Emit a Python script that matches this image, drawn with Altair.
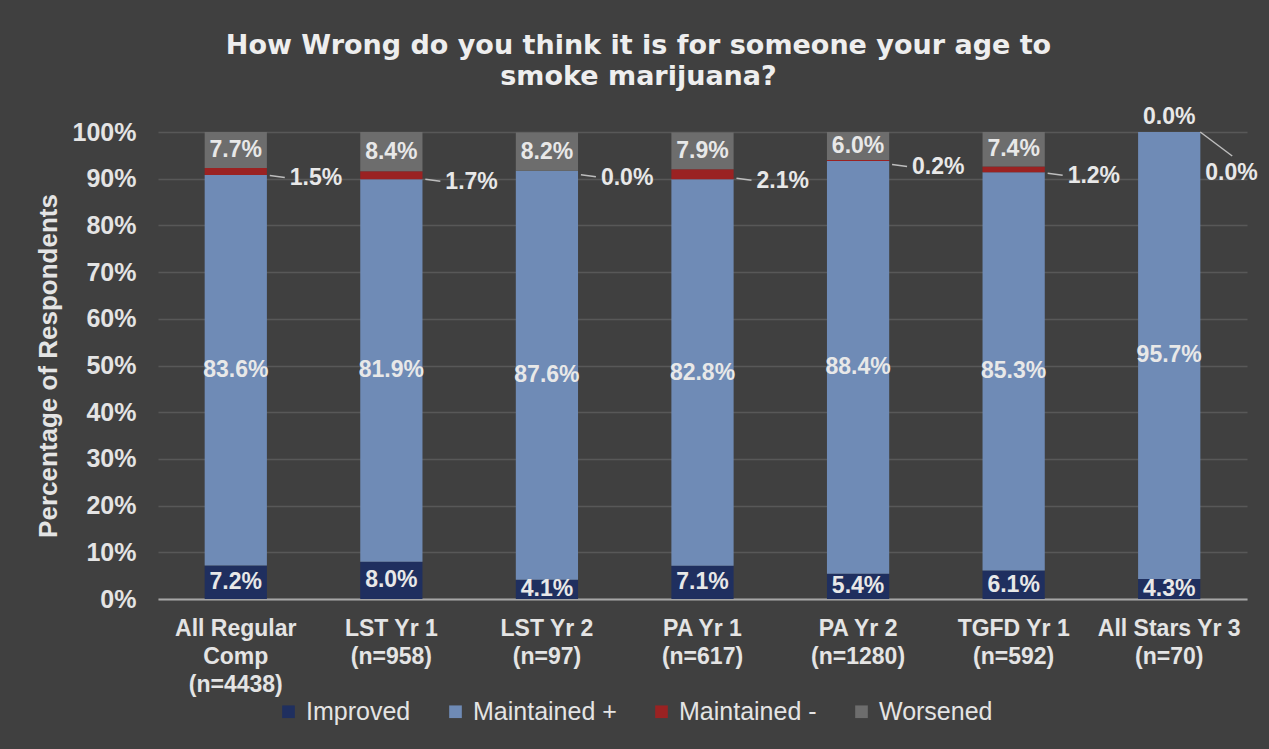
import altair as alt
import pandas as pd

categories = [
    "All Regular\nComp\n(n=4438)",
    "LST Yr 1\n(n=958)",
    "LST Yr 2\n(n=97)",
    "PA Yr 1\n(n=617)",
    "PA Yr 2\n(n=1280)",
    "TGFD Yr 1\n(n=592)",
    "All Stars Yr 3\n(n=70)",
]
series = ["Improved", "Maintained +", "Maintained -", "Worsened"]
improved = [7.2, 8.0, 4.1, 7.1, 5.4, 6.1, 4.3]
maintained_plus = [83.6, 81.9, 87.6, 82.8, 88.4, 85.3, 95.7]
maintained_minus = [1.5, 1.7, 0.0, 2.1, 0.2, 1.2, 0.0]
worsened = [7.7, 8.4, 8.2, 7.9, 6.0, 7.4, 0.0]
colors = ["#1f2f5f", "#6f8bb6", "#9a2222", "#6d6d6d"]
y_ticks = [0, 10, 20, 30, 40, 50, 60, 70, 80, 90, 100]
title_lines = ["How Wrong do you think it is for someone your age to", "smoke marijuana?"]

rows = []
values_by_series = [improved, maintained_plus, maintained_minus, worsened]
for i, cat in enumerate(categories):
    cum = 0.0
    for s, vals in zip(series, values_by_series):
        v = vals[i]
        rows.append({
            "cat": cat, "series": s, "value": v,
            "start": round(cum, 4), "end": round(cum + v, 4), "mid": round(cum + v / 2, 4),
            "label": f"{v:.1f}%",
        })
        cum += v
df = pd.DataFrame(rows)

TEXT = "#e4e4e4"
FONT = "Liberation Sans"

x_enc = alt.X(
    "cat:N", sort=categories,
    scale=alt.Scale(paddingInner=0.6, paddingOuter=0.3),
    axis=alt.Axis(
        title=None, labelAngle=0, ticks=False, domain=True,
        domainColor="#a6a6a6", domainWidth=2,
        labelFontSize=23, labelFontWeight="bold", labelColor=TEXT,
        labelLineHeight=28, labelPadding=18, labelFont=FONT,
        labelExpr="split(datum.label, '\\n')",
    ),
)
x_plain = alt.X("cat:N", sort=categories)
y_scale = alt.Scale(domain=[0, 100], nice=False)

base = alt.Chart(df)

bars = base.mark_bar().encode(
    x=x_enc,
    y=alt.Y(
        "start:Q", scale=y_scale,
        axis=alt.Axis(
            values=y_ticks, labelExpr="datum.value + '%'",
            labelFontSize=25, labelFontWeight="bold", labelColor=TEXT, labelFont=FONT,
            grid=True, gridColor="#585858", gridWidth=1.5,
            domain=False, ticks=False, labelPadding=22,
            title="Percentage of Respondents", titleFontSize=26, titleFontWeight="bold",
            titleColor=TEXT, titleFont=FONT, titlePadding=11,
        ),
    ),
    y2="end:Q",
    color=alt.Color(
        "series:N",
        scale=alt.Scale(domain=series, range=colors),
        legend=alt.Legend(
            title=None, orient="none", legendX=118, legendY=567,
            direction="horizontal", symbolType="square", symbolSize=160,
            symbolStrokeWidth=0, labelFontSize=25, labelColor=TEXT, labelFont=FONT,
            columnPadding=32, labelOffset=5, padding=0,
        ),
    ),
)

label_style = dict(fontSize=23, fontWeight="bold", color="#e8e8e8", font=FONT)

inside = base.transform_filter(
    "datum.series != 'Maintained -' && datum.value > 0"
).mark_text(baseline="middle", **label_style).encode(
    x=x_plain, y=alt.Y("mid:Q", scale=y_scale), text="label:N",
)

top_zero = base.transform_filter(
    "datum.series == 'Worsened' && datum.value == 0"
).mark_text(baseline="bottom", dy=-3, **label_style).encode(
    x=x_plain, y=alt.Y("end:Q", scale=y_scale), text="label:N",
)

minus_mid = base.transform_filter("datum.series == 'Maintained -' && datum.end < 99.95")
minus_top = base.transform_filter("datum.series == 'Maintained -' && datum.end >= 99.95")

minus_text = minus_mid.mark_text(
    align="left", baseline="middle", dx=54, dy=7, **label_style,
).encode(x=x_plain, y=alt.Y("mid:Q", scale=y_scale), text="label:N")

minus_leader = minus_mid.mark_rule(
    color="#bdbdbd", strokeWidth=1.5, xOffset=34, x2Offset=49, yOffset=4, y2Offset=6,
).encode(x=x_plain, x2=alt.X2("cat:N"), y=alt.Y("mid:Q", scale=y_scale), y2=alt.Y2("mid:Q"))

minus_top_text = minus_top.mark_text(
    align="left", baseline="middle", dx=36, dy=41, **label_style,
).encode(x=x_plain, y=alt.Y("end:Q", scale=y_scale), text="label:N")

minus_top_leader = minus_top.mark_rule(
    color="#bdbdbd", strokeWidth=1.5, xOffset=31, x2Offset=63, yOffset=0, y2Offset=24,
).encode(x=x_plain, x2=alt.X2("cat:N"), y=alt.Y("end:Q", scale=y_scale), y2=alt.Y2("end:Q"))

chart = alt.layer(
    bars, inside, top_zero, minus_leader, minus_text, minus_top_leader, minus_top_text
).properties(
    width=1089, height=467,
    autosize=alt.AutoSizeParams(type="none"),
    padding={"left": 158, "top": 132, "right": 22, "bottom": 150},
    background="#404040",
    title=alt.TitleParams(
        text=title_lines, fontSize=27, font="DejaVu Sans", fontWeight="bold",
        color="#eeeeee", anchor="middle", dx=-64, offset=15, lineHeight=31,
    ),
).configure_view(stroke=None)

chart.save("out.html", embed_options={"renderer": "svg", "actions": False})
